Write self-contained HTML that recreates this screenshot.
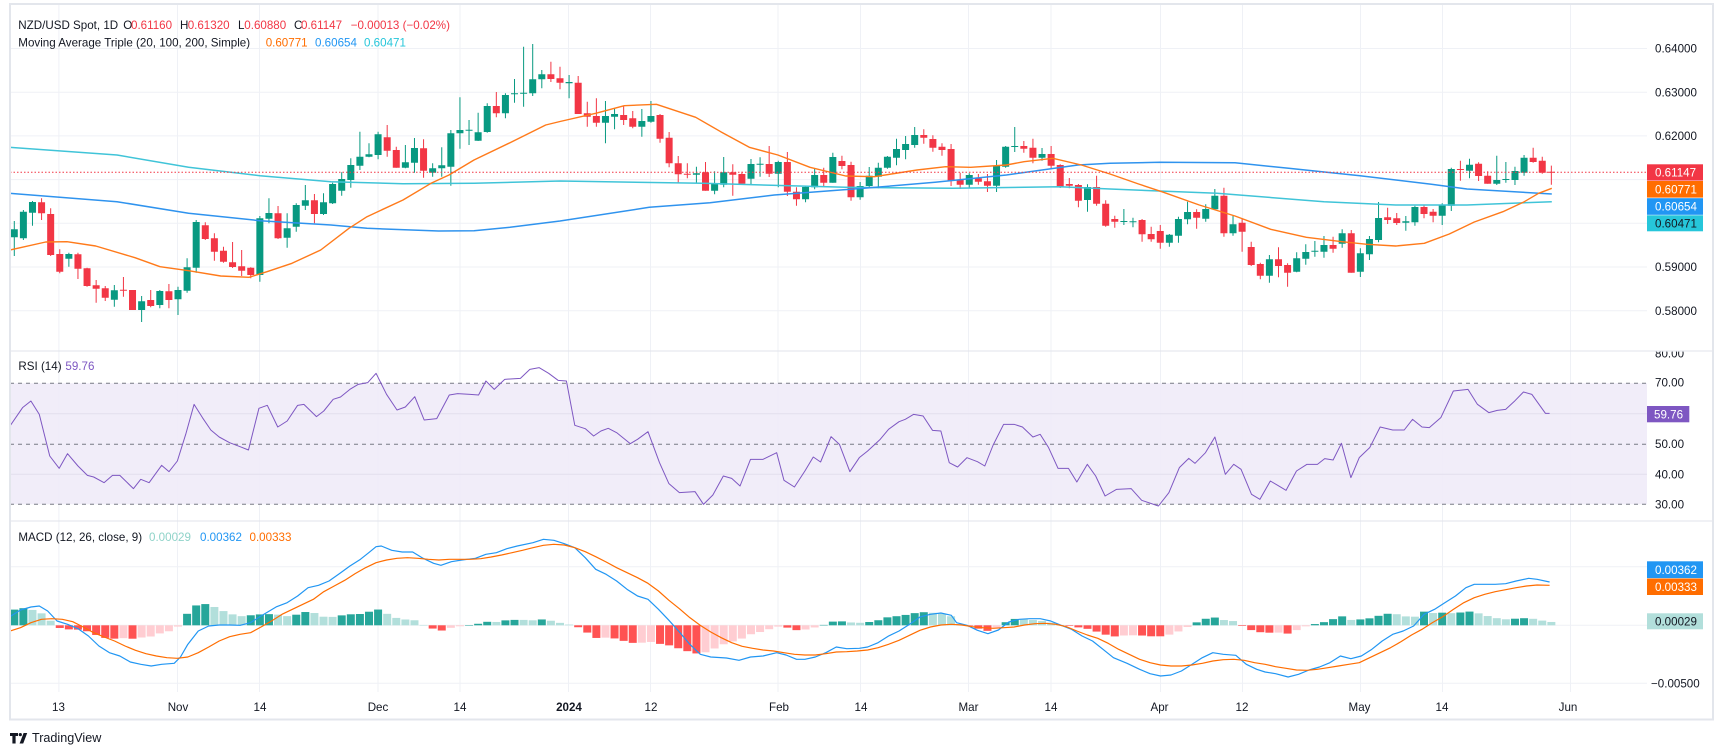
<!DOCTYPE html>
<html>
<head>
<meta charset="utf-8">
<style>
html,body{margin:0;padding:0;background:#fff;}
svg{display:block;}
text{font-family:"Liberation Sans",Arial,sans-serif;font-size:11.6px;fill:#131722;}
</style>
</head>
<body>
<svg id="chart" width="1723" height="755" viewBox="0 0 1723 755" xmlns="http://www.w3.org/2000/svg">
<defs>
  <clipPath id="cMain"><rect x="10.5" y="5" width="1636.5" height="345.5"/></clipPath>
  <clipPath id="cRsi"><rect x="10.5" y="351.5" width="1636.5" height="169"/></clipPath>
  <clipPath id="cMacd"><rect x="10.5" y="521.5" width="1636.5" height="170"/></clipPath>
  <clipPath id="cRsiAxis"><rect x="1647" y="351.6" width="66" height="169"/></clipPath>
</defs>
<rect width="1723" height="755" fill="#fff"/>

<!-- vertical gridlines -->
<g stroke="#eff1f6" stroke-width="1">
  <line x1="58.9" y1="5" x2="58.9" y2="692"/>
  <line x1="177.5" y1="5" x2="177.5" y2="692"/>
  <line x1="259.5" y1="5" x2="259.5" y2="692"/>
  <line x1="378" y1="5" x2="378" y2="692"/>
  <line x1="460" y1="5" x2="460" y2="692"/>
  <line x1="568.5" y1="5" x2="568.5" y2="692"/>
  <line x1="650.5" y1="5" x2="650.5" y2="692"/>
  <line x1="778" y1="5" x2="778" y2="692"/>
  <line x1="860.5" y1="5" x2="860.5" y2="692"/>
  <line x1="968.5" y1="5" x2="968.5" y2="692"/>
  <line x1="1051" y1="5" x2="1051" y2="692"/>
  <line x1="1160.5" y1="5" x2="1160.5" y2="692"/>
  <line x1="1242.5" y1="5" x2="1242.5" y2="692"/>
  <line x1="1360.5" y1="5" x2="1360.5" y2="692"/>
  <line x1="1442.5" y1="5" x2="1442.5" y2="692"/>
  <line x1="1570.5" y1="5" x2="1570.5" y2="692"/>
</g>
<!-- horizontal gridlines main -->
<g stroke="#eff1f6" stroke-width="1">
  <line x1="10" y1="48.5" x2="1647" y2="48.5"/>
  <line x1="10" y1="92.2" x2="1647" y2="92.2"/>
  <line x1="10" y1="135.9" x2="1647" y2="135.9"/>
  <line x1="10" y1="179.6" x2="1647" y2="179.6"/>
  <line x1="10" y1="223.3" x2="1647" y2="223.3"/>
  <line x1="10" y1="267" x2="1647" y2="267"/>
  <line x1="10" y1="310.7" x2="1647" y2="310.7"/>
  <line x1="10" y1="566.7" x2="1647" y2="566.7"/>
  <line x1="10" y1="625.3" x2="1647" y2="625.3"/>
  <line x1="10" y1="683.3" x2="1647" y2="683.3"/>
</g>

<!-- RSI pane -->
<rect x="10" y="383.3" width="1637" height="121" fill="#f0ecf9" fill-opacity="0.92"/>
<g stroke="#e2dfee" stroke-width="1">
  <line x1="10" y1="413.7" x2="1647" y2="413.7"/>
  <line x1="10" y1="474.3" x2="1647" y2="474.3"/>
</g>
<g stroke="#787b86" stroke-width="1" stroke-dasharray="4 4">
  <line x1="10" y1="383.3" x2="1647" y2="383.3"/>
  <line x1="10" y1="444.3" x2="1647" y2="444.3"/>
  <line x1="10" y1="504.3" x2="1647" y2="504.3"/>
</g>
<g clip-path="url(#cRsi)">
<g transform="translate(10 351) scale(1.04592 0.333333)">
<polyline fill="none" stroke="#7e57c2" stroke-width="1" vector-effect="non-scaling-stroke" stroke-linejoin="round" points="0,225 12,170 20,150 28,190 38,315 47,352 55,308 65,345 74,373 80,378 90,395 98,373 105,373 118,413 125,385 133,395 145,343 152,362 160,330 168,250 176,160 184,200 192,237 200,258 210,275 220,287 228,297 238,172 246,163 256,228 265,210 275,163 281,160 293,197 300,180 309,145 316,138 325,115 333,100 342,95 350,67 360,130 370,177 378,168 387,137 396,207 408,203 420,132 428,128 440,130 448,132 455,90 463,115 473,85 488,82 497,55 506,50 515,67 524,88 532,90 540,223 550,233 558,255 565,240 572,232 580,245 593,278 600,265 610,242 621,335 630,398 640,425 655,422 663,460 672,432 682,375 690,382 698,405 708,325 720,325 733,305 740,388 750,408 760,360 768,318 775,333 785,257 793,280 803,362 812,320 820,300 832,265 840,235 850,212 856,205 864,190 873,195 882,238 890,240 898,335 906,348 915,320 925,332 932,345 940,282 950,220 960,220 968,228 978,258 985,250 993,290 1002,352 1012,352 1020,393 1030,340 1038,375 1047,435 1058,415 1072,413 1082,448 1098,465 1108,425 1118,350 1127,322 1133,337 1143,305 1152,258 1162,370 1170,340 1177,355 1187,430 1195,445 1205,390 1212,403 1220,418 1230,360 1240,340 1250,340 1257,323 1265,327 1273,277 1282,380 1290,320 1300,290 1310,228 1322,237 1333,237 1341,205 1350,228 1357,230 1368,200 1380,120 1394,115 1403,160 1414,185 1422,178 1430,175 1438,152 1447,123 1455,130 1468,187 1472,187"/>
</g>
</g>

<!-- Main pane: candles -->
<g clip-path="url(#cMain)">
<g transform="translate(178 0) scale(9.095 1)">
<path fill="none" stroke="#089981" stroke-width="1" vector-effect="non-scaling-stroke" d="M-18 221V256M-17 210V240M-16 201V225.7M-12 252.7V266.7M-7 285V306.7M-4 296V322M-2 290V308.3M0 286.7V315M1 258.3V292.7M2 220V272.7M9 216V281.7M10 198.3V223.3M12 213.3V247.7M13 203.3V231.7M14 185V210M16 193.3V215M17 182.7V204M18 172.3V195.7M19 158.3V187.7M20 131.7V170M21 143.3V157.3M22 131.7V159.3M25 145V168.3M26 138V172.7M28 163.3V176.7M29 147.3V176.7M30 130V185.7M31 97.3V148.7M32 120V145M33 112.7V141M34 103.3V132.7M36 93.3V118.3M37 79V102.7M38 46.7V106.7M39 44V96M40 70V88.3M43 75V98.3M47 101V143.3M48 108.3V129.3M51 109V136.7M52 101V122.7M57 166.7V183.3M59 171.3V194.3M60 157V187.3M63 159V184.3M64 157.3V176.7M66 160.7V187.3M69 185.7V202.3M70 168.3V189.3M72 152.7V182.7M75 182V199.7M76 167V188.3M77 162.7V188.3M78 156V168.7M79 138.7V165.3M80 136V159.3M81 127V147.7M87 173.3V187.7M90 160V192M91 146V167.7M92 127V152M95 148V160.7M100 184.3V211.7M104 209V225M105 217.7V227.3M109 234V246.7M110 216.7V242.7M111 201.7V224.3M113 204.3V221.7M114 189V210M116 215.7V235.7M120 255V282.7M123 252.3V272.3M124 244.3V264.7M125 241V256.7M126 236V257.7M128 229.3V247.7M130 248.3V277M131 236V260M132 202V242.3M135 216V230.7M136 205.7V225.7M139 203.3V225M140 167.7V211M142 158.7V178.3M145 155.7V185M146 162V182.7M147 166.7V185M148 155V175.7"/>
<path fill="none" stroke="#f23645" stroke-width="1" vector-effect="non-scaling-stroke" d="M-15 198.3V220M-14 208.3V256M-13 249.3V273.3M-11 252.7V279M-10 267.7V286.7M-9 280V302.7M-8 286V301M-6 277V296.7M-5 290V310M-3 290V307.3M-1 284V308.3M3 222.3V240M4 233.3V260.7M5 246.7V262.7M6 242V268M7 250V276M8 267.3V278.3M11 206V239M15 194V223.3M23 125V156.7M24 146.7V167.7M27 139.3V177.7M35 92V117.3M41 61.7V82M42 66.7V89.3M44 76V114M45 101.7V126.7M46 98.3V126.7M49 106V125M50 111V128.3M53 114V142.7M54 132V167.3M55 156V183.3M56 163.3V178.3M58 162V190.7M61 164.3V195.7M62 171.7V183.7M65 146V177M67 152V196M68 187.3V205.7M71 167.7V187M73 155.7V169.3M74 161.7V200.7M82 129.3V143.7M83 135.3V151.7M84 143.3V155.7M85 144V186M86 172.7V189M88 174V184.7M89 174V192M93 141V152.7M94 138.7V163.3M96 146V169.3M97 164.3V188M98 178V188.3M99 184V207.3M101 175.7V205.7M102 200.3V226.7M103 215.7V227.7M106 219V241.7M107 226.7V241.7M108 225V248.7M112 209.3V228.7M115 187.7V236.7M117 218.3V251.7M118 241.7V266M119 262.7V279.3M121 247.3V277.3M122 263.3V286.7M127 236.7V252.7M129 230V272.7M133 207.7V224M134 213V225M137 205V218.3M138 209V222.3M141 160.7V180.7M143 162.3V181M144 171.3V183.7M149 147.7V162.7M150 156.7V173.7M151 165.6V184.8"/>
<path fill="none" stroke="#089981" stroke-width="7" vector-effect="non-scaling-stroke" d="M-18 229.3V237.3M-17 211.7V238.3M-16 202V212.7M-12 254V258.7M-7 290.3V299.7M-4 301.3V310M-2 291V305M0 290V299.3M1 267.3V290.7M2 222V267.7M9 218.3V275M10 213V218.7M12 228.3V237.7M13 205V226.7M14 200.3V205.7M16 202.3V214M17 184V203.3M18 179V190.7M19 165V180M20 156.7V165.7M21 154.3V156.7M22 134.3V155M25 162.3V167.7M26 148V162.7M28 168.3V172.7M29 165.3V168.3M30 133.3V166.7M31 130V133.3M32 129.7V130.7M33 132.3V140.7M34 106V132M36 95V113.3M37 93.3V94.3M38 92.7V93.7M39 79.3V93.3M40 74.3V79.3M43 82V83.3M47 116V122.7M48 114V116.7M51 121V126.7M52 116V121.7M57 173.3V174.7M59 183.3V190.7M60 172.3V184.7M63 164V178.7M64 163.7V164.7M66 162V173.7M69 187V199.3M70 175V187.3M72 157V182.7M75 186V197.3M76 175.7V186M77 167.7V176.7M78 156.7V167.7M79 149V157.7M80 144V150M81 135V145M87 175V184.7M90 166V185.7M91 146.7V166.7M92 146V147M95 154V157.7M100 187V200M104 221V222M105 221.3V222.3M109 234.7V242.7M110 219V235.7M111 212V219.3M113 209V218.7M114 195.7V209.3M116 224.3V233.3M120 259.3V275.7M123 258.3V271.7M124 252V258.7M125 250.7V251.7M126 245V251.7M128 233.3V243.7M130 253.3V271.7M131 239V254.3M132 218V240M135 221.3V222.7M136 207V222.3M139 205V215.7M140 169V205.7M142 164.7V170.7M145 180V183.7M146 179V180M147 171V180M148 157.7V172.7"/>
<path fill="none" stroke="#f23645" stroke-width="7" vector-effect="non-scaling-stroke" d="M-15 202.3V213.3M-14 214V255M-13 254V271.7M-11 254.3V268.7M-10 268.3V286M-9 285.3V288.7M-8 288.3V297.7M-6 289.7V290.7M-5 290V310M-3 300V306M-1 291.3V300M3 225.3V239M4 238.3V251.7M5 250.7V261.7M6 262.3V267M7 266.3V270.7M8 267.7V275M11 213.3V238.3M15 200.3V214M23 137.3V150.7M24 150V167.7M27 148.3V170.7M35 106V113.3M41 74.3V79M42 78.3V82.7M44 82.7V114M45 113.3V116.7M46 116V122.7M49 115V120M50 118.3V126.7M53 115V138.7M54 137.7V163.3M55 163.3V174.3M56 173.7V174.7M58 172.3V190.7M61 172.3V174.7M62 174V183.7M65 164V173.7M67 162V191.7M68 191.7V199.3M71 175V182.7M73 161V166M74 165V197.3M82 135V137.7M83 139V147.7M84 146.7V150M85 149V180.7M86 180V184.7M88 178.3V181.7M89 181.3V185.7M93 146V148.7M94 147.7V157.7M96 154V165.7M97 165V186.7M98 184V185.7M99 185V200.7M101 187V203.7M102 203.7V225.7M103 219V221.7M106 220V234.3M107 234V239.3M108 231V242.7M112 212V217.7M115 195.7V233.3M117 222.7V231.7M118 247V265M119 264V275.7M121 259.3V266M122 265V272.7M127 245V248.7M129 233.3V272.7M133 217.3V220M134 218.3V223M137 207V214M138 211.7V215.7M141 169V170M143 163.7V176M144 175.7V183.7M149 157.7V162M150 160.7V172.7M151 171.7V172.7"/>
</g>
<!-- moving averages -->
<polyline fill="none" stroke="#40c4d8" stroke-width="1.5" stroke-linejoin="round" points="10,147.3 117,155 188.6,167.3 260,175.7 331,181.7 403,183.7 474,183.3 560,181 702.9,183.3 845.7,187.3 952.9,188.3 1060,186.7 1110,189 1217,193.3 1324,201.7 1395.7,205 1467,205 1551.8,201.7"/>
<polyline fill="none" stroke="#2f93ee" stroke-width="1.5" stroke-linejoin="round" points="10,193.3 117,201.7 188.6,213.3 260,220.7 331,225 367,228.3 438.6,231 474,230.7 510,227.3 560,221 649.3,207.3 710,202.7 774.3,195 863.6,188.3 935,182.3 1006.4,175 1077.9,165 1110,163.3 1160,162.3 1235,162.7 1288.6,168.3 1360,175.7 1431.4,184.3 1467,189 1551.8,194"/>
<polyline fill="none" stroke="#ff7a1a" stroke-width="1.4" stroke-linejoin="round" points="10,250 45.7,242 67,241.7 95.7,246 135,257.7 160,266.7 188.6,270.7 220.7,276 249,277.3 267,271.7 292,263.3 320.7,250 349,228.3 367,216.7 403,200 431,183.3 449,175 474,160 510,142.7 545.7,125 560,121.5 595.7,113.3 624.3,105.7 656.4,104.3 695.7,117.3 720.7,131.7 749.3,147.3 777.9,155 810,167.3 845.7,176 874.3,176.7 917,170 945.7,166.7 970.7,167.3 1006.4,165 1024,161.7 1052.9,158.3 1081.4,165 1110,174 1138.6,184 1163.6,192.3 1199.3,205 1235,216 1270.7,229.3 1306.4,237.3 1342,241.7 1367,244.3 1395.7,246 1424.3,243.3 1449.3,234 1474.3,222 1502.9,211.7 1524.3,201.7 1538.6,193.3 1551.8,188.3"/>
<line x1="10" y1="172.3" x2="1647" y2="172.3" stroke="#f23645" stroke-width="1" stroke-dasharray="1.5 2"/>
</g>

<!-- MACD pane -->
<g clip-path="url(#cMacd)">
<g id="hist"></g>
<g transform="translate(10 351) scale(1.04592 0.333333)">
<polyline id="macdLine" fill="none" stroke="#2196f3" stroke-width="1.2" vector-effect="non-scaling-stroke" stroke-linejoin="round" points="0,797 10,777 20,768 28,765 36,780 45,810 55,820 65,833 75,855 85,885 95,905 105,915 115,933 125,940 135,945 145,940 157,937 163,918 170,880 180,840 190,825 200,822 210,822 220,823 230,815 240,795 255,767 265,755 275,735 285,710 295,703 305,690 315,668 325,645 335,625 343,605 350,587 355,585 365,598 375,603 385,603 395,622 405,637 412,643 422,632 432,627 445,622 455,610 465,605 475,593 485,585 500,575 510,565 520,568 530,578 540,590 550,620 560,655 570,670 580,690 590,715 600,735 610,745 620,775 630,808 640,843 650,880 660,910 670,918 685,921 697,928 708,918 720,915 733,905 742,912 752,925 760,925 770,918 780,905 790,888 800,893 812,892 820,888 830,875 840,855 850,840 860,820 870,798 880,790 890,786 900,793 905,815 915,823 925,838 935,848 945,837 955,813 965,805 975,803 985,803 995,810 1005,823 1015,835 1025,855 1035,870 1045,895 1055,920 1068,937 1080,955 1090,968 1100,975 1110,972 1120,960 1130,940 1140,920 1150,905 1160,910 1172,913 1182,940 1192,955 1200,963 1210,968 1222,978 1232,970 1242,957 1252,948 1262,935 1272,915 1282,923 1292,915 1302,895 1312,870 1322,850 1332,840 1342,825 1352,790 1362,775 1372,755 1382,735 1392,710 1400,700 1410,700 1420,700 1430,698 1440,690 1452,682 1460,685 1472,693"/>
<polyline id="sigLine" fill="none" stroke="#ff6d00" stroke-width="1.2" vector-effect="non-scaling-stroke" stroke-linejoin="round" points="0,840 10,830 20,815 30,805 40,803 50,805 60,812 70,828 80,845 90,858 100,870 110,885 120,898 130,908 140,915 150,920 160,922 170,918 180,905 190,888 200,870 210,857 220,850 230,845 240,828 250,810 260,790 270,775 280,760 290,745 300,722 310,705 320,688 330,668 340,650 350,635 360,627 370,622 380,620 390,622 400,625 410,627 420,625 430,625 440,625 450,623 460,618 470,612 480,605 490,598 500,590 510,583 520,580 530,582 540,590 550,602 560,617 570,633 580,650 590,665 600,680 610,697 620,720 630,748 640,773 650,800 660,823 670,843 680,860 690,875 700,886 710,892 720,897 730,900 740,905 750,910 760,912 770,912 780,908 790,903 800,902 810,900 820,897 830,890 840,880 850,868 860,853 870,838 880,828 890,822 900,820 910,822 920,827 930,830 940,832 950,830 960,828 970,822 980,818 990,817 1000,820 1010,827 1020,840 1030,852 1040,862 1050,877 1060,895 1070,910 1080,925 1090,935 1100,942 1110,945 1120,945 1130,942 1140,937 1150,930 1160,926 1170,925 1180,928 1190,935 1200,940 1210,947 1220,952 1230,957 1240,958 1250,955 1260,950 1270,945 1280,940 1290,935 1300,920 1310,905 1320,890 1330,872 1340,852 1350,835 1360,815 1370,797 1380,775 1390,755 1400,740 1410,730 1420,722 1430,716 1440,710 1450,705 1460,702 1472,703"/>
</g>
</g>

<!-- separators & frame -->
<g stroke="#e0e3eb" stroke-width="1">
  <line x1="10" y1="351" x2="1713" y2="351"/>
  <line x1="10" y1="521" x2="1713" y2="521"/>
</g>
<rect x="10" y="4" width="1703" height="715.5" fill="none" stroke="#e3e6ec" stroke-width="2"/>

<!-- Legends -->
<text y="29.2"><tspan x="18.3">NZD/USD Spot, 1D</tspan><tspan x="123.3">O</tspan><tspan x="131" fill="#f23645">0.61160</tspan><tspan x="180">H</tspan><tspan x="187.7" fill="#f23645">0.61320</tspan><tspan x="238">L</tspan><tspan x="244.3" fill="#f23645">0.60880</tspan><tspan x="294">C</tspan><tspan x="301" fill="#f23645">0.61147</tspan><tspan x="350.7" fill="#f23645">−0.00013 (−0.02%)</tspan></text>
<text y="46.3"><tspan x="18.3">Moving Average Triple (20, 100, 200, Simple)</tspan><tspan x="265.7" fill="#ff6d00">0.60771</tspan><tspan x="315" fill="#2196f3">0.60654</tspan><tspan x="364" fill="#26c6da">0.60471</tspan></text>
<text y="370.2"><tspan x="18.4">RSI (14)</tspan><tspan x="65.4" fill="#7e57c2">59.76</tspan></text>
<text y="540.9"><tspan x="18.4">MACD (12, 26, close, 9)</tspan><tspan x="149" fill="#8fd3c9">0.00029</tspan><tspan x="200" fill="#2196f3">0.00362</tspan><tspan x="249.5" fill="#ff6d00">0.00333</tspan></text>

<!-- Price axis -->
<text x="1655" y="52.6">0.64000</text>
<text x="1655" y="96.3">0.63000</text>
<text x="1655" y="140">0.62000</text>
<text x="1655" y="271.1">0.59000</text>
<text x="1655" y="314.8">0.58000</text>
<rect x="1647" y="164.3" width="56" height="16.3" fill="#f23645"/>
<text x="1655" y="176.4" fill="#fff" style="fill:#fff">0.61147</text>
<rect x="1647" y="181" width="56" height="16.6" fill="#ff6d00"/>
<text x="1655" y="193.4" style="fill:#fff">0.60771</text>
<rect x="1647" y="198.2" width="56" height="16.6" fill="#2196f3"/>
<text x="1655" y="210.6" style="fill:#fff">0.60654</text>
<rect x="1647" y="215.3" width="56" height="16" fill="#26c6da"/>
<text x="1655" y="227.4">0.60471</text>

<!-- RSI axis -->
<g clip-path="url(#cRsiAxis)">
<text x="1655" y="357.5">80.00</text>
</g>
<text x="1655" y="386.6">70.00</text>
<text x="1655" y="448.2">50.00</text>
<text x="1655" y="478.4">40.00</text>
<text x="1655" y="508.4">30.00</text>
<rect x="1647" y="406" width="42.3" height="16.3" fill="#7e57c2"/>
<text x="1654" y="418.3" style="fill:#fff">59.76</text>

<!-- MACD axis -->
<rect x="1647" y="561.3" width="56" height="16.8" fill="#2196f3"/>
<text x="1655" y="573.8" style="fill:#fff">0.00362</text>
<rect x="1647" y="578.5" width="56" height="16.5" fill="#ff6d00"/>
<text x="1655" y="590.8" style="fill:#fff">0.00333</text>
<rect x="1647" y="613.3" width="56" height="16" fill="#b2dfdb"/>
<text x="1655" y="625.4">0.00029</text>
<text x="1651" y="687.3">−0.00500</text>

<!-- Time axis -->
<g text-anchor="middle">
<text x="58.5" y="711">13</text>
<text x="178" y="711">Nov</text>
<text x="260" y="711">14</text>
<text x="378" y="711">Dec</text>
<text x="460" y="711">14</text>
<text x="569" y="711" font-weight="bold">2024</text>
<text x="651" y="711">12</text>
<text x="779" y="711">Feb</text>
<text x="861" y="711">14</text>
<text x="968.5" y="711">Mar</text>
<text x="1051" y="711">14</text>
<text x="1159.5" y="711">Apr</text>
<text x="1242" y="711">12</text>
<text x="1359.5" y="711">May</text>
<text x="1442" y="711">14</text>
<text x="1568" y="711">Jun</text>
</g>

<!-- TradingView logo -->
<g fill="#131722">
  <path d="M10 733h8v3h-2.4v7.5h-3.2v-7.5H10z"/>
  <circle cx="20.3" cy="734.6" r="1.6"/>
  <path d="M23.6 733h3.6l-4 10.5h-3.6z"/>
</g>
<text x="32" y="742.2" style="font-size:12.6px">TradingView</text>
</svg>

<script>
(function(){
  function parse(id){
    var s=document.getElementById(id).getAttribute('points').trim().split(/\s+/);
    return s.map(function(p){var a=p.split(',');return [parseFloat(a[0]),parseFloat(a[1])];});
  }
  function interp(p,x){
    if(x<=p[0][0]) return p[0][1];
    for(var k=1;k<p.length;k++){
      if(x<=p[k][0]){var a=p[k-1],b=p[k];return a[1]+(b[1]-a[1])*(x-a[0])/(b[0]-a[0]);}
    }
    return p[p.length-1][1];
  }
  var M=parse('macdLine'), S=parse('sigLine');
  var g=document.getElementById('hist');
  var ns='http://www.w3.org/2000/svg';
  var prev=null, zero=625.3;
  for(var i=-18;i<=151;i++){
    var xz=160.6+8.696*i;
    var h=(interp(S,xz)-interp(M,xz))/3;
    var col;
    if(h>=0) col=(prev===null||h>=prev)?'#26a69a':'#b2dfdb';
    else col=(prev===null||h<=prev)?'#ff5252':'#ffcdd2';
    prev=h;
    var r=document.createElementNS(ns,'rect');
    var x=178+9.095*i-4;
    r.setAttribute('x',x.toFixed(2));
    r.setAttribute('width','8');
    r.setAttribute('y',(h>=0?zero-h:zero).toFixed(2));
    r.setAttribute('height',Math.max(0.5,Math.abs(h)).toFixed(2));
    r.setAttribute('fill',col);
    g.appendChild(r);
  }
})();
</script>
</body>
</html>
